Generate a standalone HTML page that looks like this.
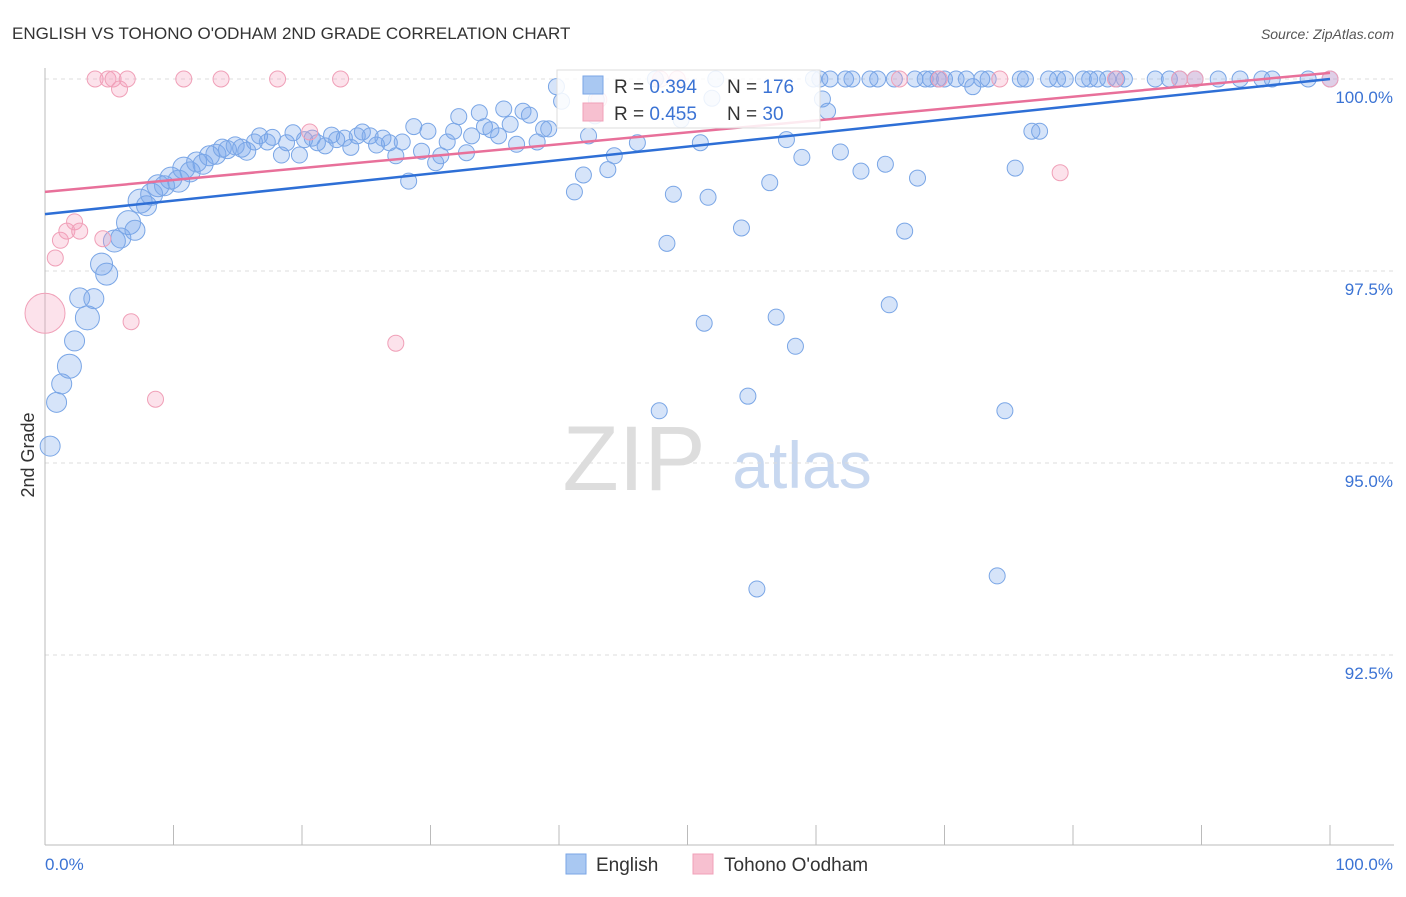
<!DOCTYPE html>
<html><head><meta charset="utf-8">
<style>
body{margin:0;background:#fff;font-family:"Liberation Sans",sans-serif;}
svg text{font-family:"Liberation Sans",sans-serif;}
</style></head>
<body>
<svg id="chart" width="1406" height="892" viewBox="0 0 1406 892">
<text x="12" y="39" font-size="17" fill="#333">ENGLISH VS TOHONO O'ODHAM 2ND GRADE CORRELATION CHART</text>
<text x="1394" y="39" font-size="14" fill="#555" font-style="italic" text-anchor="end">Source: ZipAtlas.com</text>
<g>
<text x="634" y="490" font-size="92" fill="#ddd" font-family="Liberation Serif" text-anchor="middle" font-family="Liberation Serif, serif">ZIP</text>
<text x="802" y="488" font-size="66" fill="#c8d8f0" text-anchor="middle">atlas</text>
</g>
<g id="grid"></g>
<g id="axes"></g>
<g id="points"></g>
<g id="trends"></g>
<text x="0" y="0" transform="translate(34,455) rotate(-90)" font-size="18" fill="#333" text-anchor="middle">2nd Grade</text>
<g>
<rect x="557" y="70" width="263" height="58" fill="#fff" fill-opacity="0.85" stroke="#ddd"/>
<rect x="583" y="76" width="20" height="18" fill="#a9c8f2" stroke="#7aa6e6"/>
<rect x="583" y="103" width="20" height="18" fill="#f7c0d0" stroke="#f0a0b8"/>
<text x="614" y="93" font-size="19" fill="#333">R = <tspan fill="#3b73d4">0.394</tspan></text>
<text x="727" y="93" font-size="19" fill="#333">N = <tspan fill="#3b73d4">176</tspan></text>
<text x="614" y="120" font-size="19" fill="#333">R = <tspan fill="#3b73d4">0.455</tspan></text>
<text x="727" y="120" font-size="19" fill="#333">N =  <tspan fill="#3b73d4">30</tspan></text>
</g>
<g>
<rect x="566" y="854" width="20" height="20" fill="#a9c8f2" stroke="#7aa6e6"/>
<text x="596" y="871" font-size="19" fill="#333">English</text>
<rect x="693" y="854" width="20" height="20" fill="#f7c0d0" stroke="#f0a0b8"/>
<text x="724" y="871" font-size="19" fill="#333">Tohono O'odham</text>
</g>
</svg>
<script>
const blueX=[0.4,0.9,1.3,1.9,2.3,3.3,2.7,3.8,4.4,4.8,5.4,5.9,6.5,7.0,7.4,7.9,8.3,8.8,9.3,9.8,10.4,10.8,11.3,11.8,12.3,12.8,13.3,13.8,14.2,14.8,15.3,15.7,16.3,16.7,17.3,17.7,18.4,18.8,19.3,19.8,20.2,20.8,21.2,21.8,22.3,22.7,23.3,23.8,24.3,24.7,25.3,25.8,26.3,26.8,27.3,27.8,28.3,28.7,29.3,29.8,30.4,30.8,31.3,31.8,32.2,32.8,33.2,33.8,34.2,34.7,35.3,35.7,36.2,36.7,37.2,37.7,38.3,38.8,39.2,39.8,40.2,41.2,41.9,42.3,42.8,42.9,43.8,44.3,46.1,47.5,47.8,48.4,48.9,49.5,51.0,51.3,51.6,51.9,52.2,54.2,54.7,55.4,56.4,56.9,57.7,58.4,58.9,59.8,60.3,60.5,60.9,61.1,61.9,62.3,62.8,63.5,64.2,64.8,65.4,65.7,66.1,66.9,67.7,67.9,68.5,68.9,69.5,70.0,70.9,71.7,72.2,72.9,73.4,74.1,74.7,75.5,75.9,76.3,76.8,77.4,78.1,78.8,79.4,80.8,81.3,81.9,82.7,83.4,84.0,86.4,87.5,88.3,89.5,91.3,93.0,94.7,95.5,98.3,100];
const blueY=[95.22,95.79,96.03,96.26,96.59,96.89,97.15,97.14,97.59,97.46,97.89,97.93,98.13,98.03,98.41,98.35,98.50,98.61,98.61,98.71,98.67,98.84,98.79,98.92,98.89,99.00,99.02,99.10,99.08,99.13,99.10,99.06,99.18,99.26,99.18,99.24,99.01,99.17,99.30,99.01,99.21,99.23,99.17,99.13,99.27,99.21,99.23,99.11,99.26,99.31,99.26,99.14,99.23,99.17,99.00,99.18,98.67,99.38,99.06,99.32,98.91,99.00,99.18,99.32,99.51,99.04,99.26,99.56,99.38,99.34,99.26,99.61,99.41,99.15,99.58,99.53,99.18,99.35,99.35,99.90,99.71,98.53,98.75,99.26,99.52,99.73,98.82,99.00,99.17,100,95.68,97.86,98.50,99.47,99.17,96.82,98.46,99.75,100,98.06,95.87,93.36,98.65,96.90,99.21,96.52,98.98,100,100,99.74,99.58,100,99.05,100,100,98.80,100,100,98.89,97.06,100,98.02,100,98.71,100,100,100,100,100,100,99.90,100,100,93.53,95.68,98.84,100,100,99.32,99.32,100,100,100,100,100,100,100,100,100,100,100,100,100,100,100,100,100,100,100];
const blueSize=[10,10,10,12,10,12,10,10,11,11,11,10,12,10,12,10,11,11,10,11,11,11,10,10,10,10,10,9,9,9,9,9];
const pinkX=[0,0.8,1.2,1.7,2.3,2.7,4.5,3.9,4.9,5.3,5.8,6.4,6.7,8.6,10.8,13.7,18.1,20.6,23.0,27.3,43.1,47.9,49.2,66.5,69.6,74.3,79.0,83.3,88.3,89.5,100];
const pinkY=[96.95,97.67,97.90,98.02,98.14,98.02,97.92,100,100,100,99.87,100,96.84,95.83,100,100,100,99.31,100,96.56,99.73,100,100,100,100,100,98.78,100,100,100,100];
const pinkSize=[20];
const yTicks=[100,97.5,95,92.5];
const yTickLabels=["100.0%","97.5%","95.0%","92.5%"];
const xTicks=[0,10,20,30,40,50,60,70,80,90,100];
const blueTrend=[98.24,100];
const pinkTrend=[98.53,100.08];

const NS="http://www.w3.org/2000/svg";
const X0=45,X1=1330,Ytop=79,PxPerPct=76.8,Bottom=845;
function sx(v){return X0+(X1-X0)*v/100;}
function sy(v){return Ytop+(100-v)*PxPerPct;}
function mk(tag,attrs,parent){const e=document.createElementNS(NS,tag);for(const k in attrs)e.setAttribute(k,attrs[k]);parent.appendChild(e);return e;}

const grid=document.getElementById('grid');
yTicks.forEach((t,i)=>{
  const l=mk('line',{x1:X0,x2:1394,y1:sy(t),y2:sy(t),stroke:'#ddd','stroke-dasharray':'4,4'},grid);
  
  
  const tx=mk('text',{x:1393,y:sy(t)+24,'font-size':17,fill:'#3b73d4','text-anchor':'end'},grid);
  tx.textContent=yTickLabels[i];
  
  
});
const axes=document.getElementById('axes');
const ya=mk('line',{x1:X0,x2:X0,y1:68,y2:Bottom,stroke:'#bbb'},axes);


const xa=mk('line',{x1:X0,x2:1394,y1:Bottom,y2:Bottom,stroke:'#bbb'},axes);


xTicks.forEach(t=>{
  const l=mk('line',{x1:sx(t),x2:sx(t),y1:Bottom-20,y2:Bottom,stroke:'#bbb'},axes);
  
  
});
const xl0=mk('text',{x:45,y:870,'font-size':17,fill:'#3b73d4'},axes);xl0.textContent='0.0%';


const xl1=mk('text',{x:1393,y:870,'font-size':17,fill:'#3b73d4','text-anchor':'end'},axes);xl1.textContent='100.0%';



const pts=document.getElementById('points');
blueX.forEach((x,i)=>{
  const c=mk('circle',{cx:sx(x),cy:sy(blueY[i]),r:blueSize[i]||8,fill:'rgba(120,165,235,0.3)',stroke:'#7aa6e6','stroke-width':1},pts);
  
  
});
pinkX.forEach((x,i)=>{
  const c=mk('circle',{cx:sx(x),cy:sy(pinkY[i]),r:pinkSize[i]||8,fill:'rgba(245,160,190,0.3)',stroke:'#f0a0b8','stroke-width':1},pts);
  
  
});
const tr=document.getElementById('trends');
const bt=mk('line',{x1:sx(0),y1:sy(blueTrend[0]),x2:sx(100),y2:sy(blueTrend[1]),stroke:'#2e6fd6','stroke-width':2.5},tr);


const pt=mk('line',{x1:sx(0),y1:sy(pinkTrend[0]),x2:sx(100),y2:sy(pinkTrend[1]),stroke:'#e8709a','stroke-width':2.5},tr);


</script>
</body></html>
